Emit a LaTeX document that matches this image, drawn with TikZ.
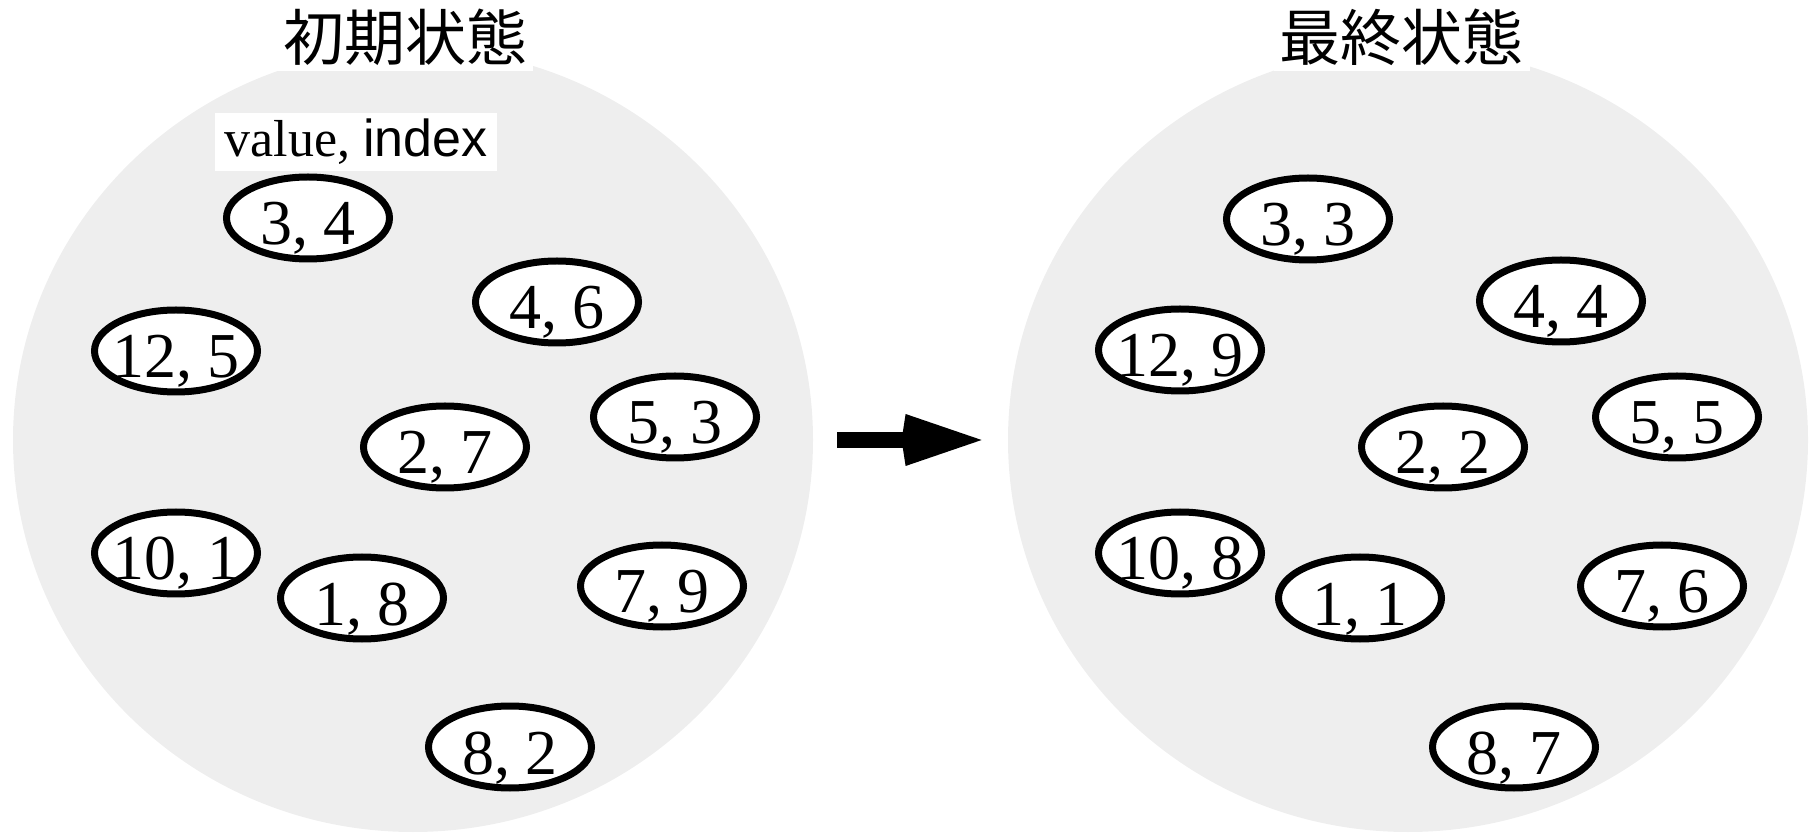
\documentclass[tikz,border=0pt]{standalone}
\usepackage{fontspec}
\setmainfont{Liberation Serif}
\newfontfamily\cjkfont{Noto Sans CJK JP}
\newfontfamily\arialfont{Liberation Sans}
\usepackage{tikz}
\usetikzlibrary{arrows.meta, positioning, shapes.geometric}
\definecolor{setgray}{RGB}{238, 238, 238}

% value/index pair, kept zero-width so every ellipse has the same size
\newcommand{\pair}[2]{\makebox[0pt]{#1, #2}}

\begin{document}
\begin{tikzpicture}[
    x=0.5pt, y=-0.5pt,
    pool/.style = {ellipse, fill=setgray, inner sep=0pt,
                   minimum width=400pt, minimum height=392pt},
    title/.style = {fill=white, inner sep=3pt,
                    font=\cjkfont\fontsize{30.5pt}{36pt}\selectfont},
    item/.style = {ellipse, draw, fill=white, line width=3.5pt, inner sep=0pt,
                   minimum width=81.5pt, minimum height=41pt,
                   text height=27pt, text depth=0pt,
                   font=\fontsize{32pt}{38pt}\selectfont},
    bigarrow/.style = {-{Kite[length=40pt, width=26pt, inset=2pt]},
                       line width=8pt, shorten <=12pt, shorten >=13pt}
]
  \useasboundingbox (0,0) rectangle (1815,833);

  \node[pool] (init)  at (413,440)  {};
  \node[pool] (final) at (1408,440) {};

  \node[title] (inittitle)  at (405,37)    {初期状態};
  \node[title] (finaltitle) at (1401.5,37) {最終状態};

  \node[fill=white, inner xsep=5pt, inner ysep=3pt,
        font=\fontsize{26pt}{30pt}\selectfont] (legend) at (356,142)
        {value, {\arialfont index}};

  % before sorting
  \node[item] (i3)  at (308,218) {\pair{3}{4}};
  \node[item] (i4)  at (557,302) {\pair{4}{6}};
  \node[item] (i12) at (176,351) {\pair{12}{5}};
  \node[item] (i5)  at (675,417) {\pair{5}{3}};
  \node[item] (i2)  at (445,447) {\pair{2}{7}};
  \node[item] (i10) at (176,553) {\pair{10}{1}};
  \node[item] (i1)  at (362,598) {\pair{1}{8}};
  \node[item] (i7)  at (662,586) {\pair{7}{9}};
  \node[item] (i8)  at (510,747) {\pair{8}{2}};

  % after sorting
  \node[item] (f3)  at (1308,219) {\pair{3}{3}};
  \node[item] (f4)  at (1561,301) {\pair{4}{4}};
  \node[item] (f12) at (1180,350) {\pair{12}{9}};
  \node[item] (f5)  at (1677,417) {\pair{5}{5}};
  \node[item] (f2)  at (1443,447) {\pair{2}{2}};
  \node[item] (f10) at (1180,553) {\pair{10}{8}};
  \node[item] (f1)  at (1360,598) {\pair{1}{1}};
  \node[item] (f7)  at (1662,586) {\pair{7}{6}};
  \node[item] (f8)  at (1514,747) {\pair{8}{7}};

  \draw[bigarrow] (init) -- (final);
\end{tikzpicture}
\end{document}
